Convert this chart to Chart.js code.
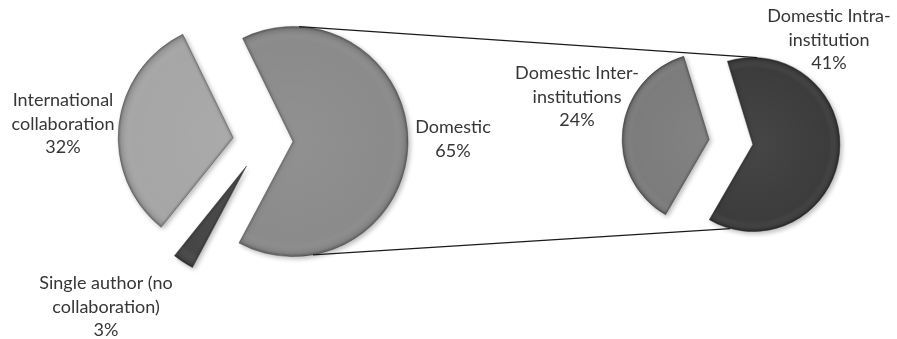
<!DOCTYPE html>
<html>
<head>
<meta charset="utf-8">
<script src="https://cdn.jsdelivr.net/npm/chart.js@4.4.1/dist/chart.umd.min.js"></script>
<style>
  body { margin: 0; background: #fff; }
  #wrap { position: relative; width: 897px; height: 339px; }
  #wrap canvas { position: absolute; left: 0; top: 0; }
</style>
</head>
<body>
<div id="wrap">
  <canvas id="mainPie" width="897" height="339"></canvas>
  <canvas id="subPie" width="897" height="339"></canvas>
</div>
<script>
// main pie: all papers
const mainCategories = ['Domestic', 'Single author (no collaboration)', 'International collaboration'];
const mainLabelLines = [['Domestic'], ['Single author (no', 'collaboration)'], ['International', 'collaboration']];
const mainValues = [65, 3, 32];
const mainColors = ['#8b8b8b', '#464646', '#a6a6a6'];

// secondary pie: breakdown of Domestic
const subCategories = ['Domestic Intra-institution', 'Domestic Inter-institutions'];
const subLabelLines = [['Domestic Intra-', 'institution'], ['Domestic Inter-', 'institutions']];
const subValues = [41, 24];
const subColors = ['#3c3c3c', '#7c7c7c'];

const FONT = '18px Lato, "Open Sans", sans-serif';

// draws each slice pulled out from the centre, with a soft bevel
const explodePlugin = {
    id: 'explode',
    beforeDatasetDraw(chart, args, opts) {
        const ctx = chart.ctx;
        args.meta.data.forEach(function (arc) {
            const mid = (arc.startAngle + arc.endAngle) / 2;
            const dx = Math.cos(mid) * opts.distance;
            const dy = Math.sin(mid) * opts.distance;

            ctx.save();
            ctx.translate(dx, dy);
            ctx.shadowColor = 'rgba(0,0,0,0.28)';
            ctx.shadowBlur = 5;
            ctx.shadowOffsetX = 2;
            ctx.shadowOffsetY = 2;
            arc.draw(ctx);
            ctx.restore();

            ctx.save();
            ctx.translate(dx, dy);
            ctx.beginPath();
            ctx.moveTo(arc.x, arc.y);
            ctx.arc(arc.x, arc.y, arc.outerRadius, arc.startAngle, arc.endAngle);
            ctx.closePath();
            ctx.clip();
            const g = ctx.createRadialGradient(arc.x, arc.y, 0, arc.x, arc.y, arc.outerRadius);
            g.addColorStop(0, 'rgba(255,255,255,0.05)');
            g.addColorStop(0.88, 'rgba(255,255,255,0)');
            g.addColorStop(1, 'rgba(0,0,0,0.16)');
            ctx.fillStyle = g;
            ctx.fill();
            ctx.lineWidth = 4;
            ctx.strokeStyle = 'rgba(0,0,0,0.1)';
            ctx.shadowColor = 'rgba(0,0,0,0.3)';
            ctx.shadowBlur = 4;
            ctx.stroke();
            ctx.restore();
        });
        return false;
    }
};

// multi-line text labels placed relative to the pie centre
const labelPlugin = {
    id: 'sliceLabels',
    afterDatasetsDraw(chart, args, opts) {
        const ctx = chart.ctx;
        const arc = chart.getDatasetMeta(0).data[0];
        const values = chart.data.datasets[0].data;
        ctx.save();
        ctx.font = FONT;
        ctx.fillStyle = '#363636';
        ctx.textAlign = 'center';
        ctx.textBaseline = 'middle';
        opts.lines.forEach(function (lines, i) {
            const all = lines.concat([values[i] + '%']);
            const x = arc.x + opts.anchors[i][0];
            const y0 = arc.y + opts.anchors[i][1] - (all.length - 1) * 23.5 / 2;
            all.forEach(function (t, k) { ctx.fillText(t, x, y0 + k * 23.5); });
        });
        ctx.restore();
    }
};

function vertexPoint(chart, index, dist, deg) {
    const arc = chart.getDatasetMeta(0).data[index];
    const mid = (arc.startAngle + arc.endAngle) / 2;
    const vx = arc.x + Math.cos(mid) * dist;
    const vy = arc.y + Math.sin(mid) * dist;
    const a = (deg - 90) * Math.PI / 180;
    return [vx + Math.cos(a) * arc.outerRadius, vy + Math.sin(a) * arc.outerRadius];
}

const mainChart = new Chart(document.getElementById('mainPie'), {
    type: 'pie',
    data: {
        labels: mainCategories,
        datasets: [{
            data: mainValues,
            backgroundColor: mainColors,
            borderColor: 'rgba(60,60,60,0.45)',
            borderWidth: 1
        }]
    },
    options: {
        responsive: false,
        animation: false,
        rotation: -26,
        radius: 115,
        layout: { padding: { left: 0, right: 371, top: 0, bottom: 57 } },
        plugins: {
            legend: { display: false },
            tooltip: { enabled: false },
            explode: { distance: 30 },
            sliceLabels: {
                lines: mainLabelLines,
                anchors: [[190, -2], [-157, 166], [-200, -17]]
            }
        }
    },
    plugins: [explodePlugin, labelPlugin]
});

// connector lines from the Domestic slice to the breakdown pie
const connectorPlugin = {
    id: 'connector',
    beforeDatasetsDraw(chart) {
        const ctx = chart.ctx;
        const p1 = vertexPoint(mainChart, 0, 30, 3);
        const p2 = vertexPoint(chart, 0, 22, 3);
        const p3 = vertexPoint(mainChart, 0, 30, 170);
        const p4 = vertexPoint(chart, 0, 22, 195);
        ctx.save();
        ctx.strokeStyle = '#1a1a1a';
        ctx.lineWidth = 1.3;
        ctx.beginPath();
        ctx.moveTo(p1[0], p1[1]);
        ctx.lineTo(p2[0], p2[1]);
        ctx.moveTo(p3[0], p3[1]);
        ctx.lineTo(p4[0], p4[1]);
        ctx.stroke();
        ctx.restore();
    }
};

new Chart(document.getElementById('subPie'), {
    type: 'pie',
    data: {
        labels: subCategories,
        datasets: [{
            data: subValues,
            backgroundColor: subColors,
            borderColor: 'rgba(40,40,40,0.45)',
            borderWidth: 1
        }]
    },
    options: {
        responsive: false,
        animation: false,
        rotation: -17,
        radius: 87,
        layout: { padding: { left: 565, right: 0, top: 0, bottom: 55 } },
        plugins: {
            legend: { display: false },
            tooltip: { enabled: false },
            explode: { distance: 22 },
            sliceLabels: {
                lines: subLabelLines,
                anchors: [[98, -102], [-154, -45]]
            }
        }
    },
    plugins: [connectorPlugin, explodePlugin, labelPlugin]
});
</script>
</body>
</html>
